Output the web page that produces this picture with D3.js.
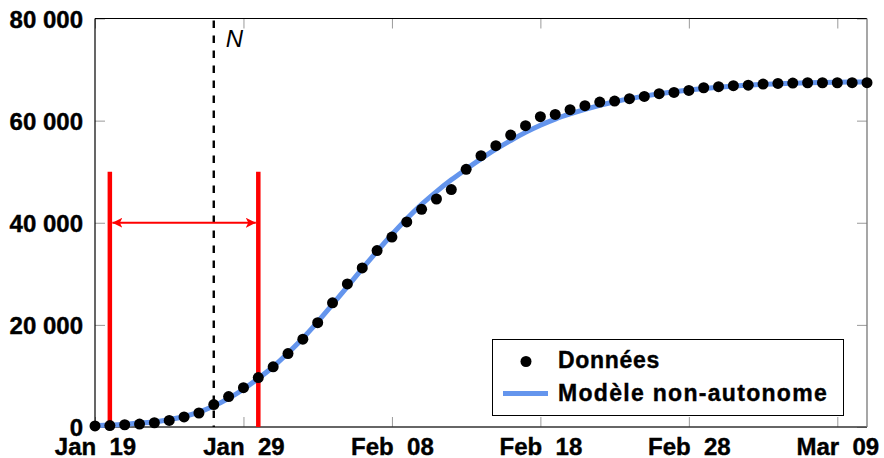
<!DOCTYPE html>
<html>
<head>
<meta charset="utf-8">
<script src="https://cdn.jsdelivr.net/npm/d3@7"></script>
<style>
  html, body { margin: 0; padding: 0; background: #fff; }
  svg { display: block; font-family: "Liberation Sans", Arial, sans-serif; }
</style>
</head>
<body>
<svg id="chart" width="884" height="458"></svg>
<script>
// ---- data ----
const startDate = "2020-01-19";
const endDate = "2020-03-11";
const cases = [200, 290, 440, 570, 830, 1290, 1980, 2740, 4400, 5970, 7710, 9690, 11790,
  14380, 17200, 20440, 24320, 28020, 31160, 34550, 37200, 40170, 42640, 44650, 46490, 50460,
  53140, 55100, 57170, 59010, 60770, 61220, 62140, 62920, 63630, 63830, 64290, 64740, 65270,
  65530, 65920, 66440,
  66640, 66840, 66950, 67150, 67290, 67350, 67420, 67420, 67420, 67440, 67440];
const model = [250, 380, 550, 780, 1000, 1450, 2050, 2900, 4100, 5600, 7400, 9500, 11800,
  14500, 17400, 20600, 24000, 27500, 31000, 34400, 37700, 40800, 43600, 46100, 48400, 50500,
  52500, 54400, 56100, 57700, 59100, 60300, 61300, 62200, 63000, 63700, 64300, 64800, 65250,
  65650, 66000, 66300,
  66550, 66780, 66950, 67100, 67220, 67320, 67400, 67460, 67510, 67550, 67580];
const xTickDates = ["2020-01-19", "2020-01-29", "2020-02-08", "2020-02-18", "2020-02-28", "2020-03-09"];
const yTicks = [0, 20000, 40000, 60000, 80000];
const markerN = "2020-01-27";
const windowStart = "2020-01-20";
const windowEnd = "2020-01-30";
const windowHeight = 50000;
const arrowLevel = 40000;
const legendLabels = ["Données", "Modèle non-autonome"];

// ---- setup ----
const parse = d3.utcParse("%Y-%m-%d");
const days = d3.utcDay.range(parse(startDate), d3.utcDay.offset(parse(endDate), 1));
const pts = days.map((d, i) => ({ d, v: cases[i], m: model[i] }));

const L = 95, R = 867, T = 18.5, B = 427;
const svg = d3.select("#chart");
const x = d3.scaleUtc().domain([parse(startDate), parse(endDate)]).range([L, R]);
const y = d3.scaleLinear().domain([0, 80000]).range([B, T]);

const defs = svg.append("defs");
defs.append("marker").attr("id", "arrR").attr("viewBox", "0 0 10 10").attr("refX", 10).attr("refY", 5)
  .attr("markerWidth", 10).attr("markerHeight", 10).attr("markerUnits", "userSpaceOnUse").attr("orient", "auto")
  .append("path").attr("d", "M0,0 L10,5 L0,10 L2.5,5 Z").attr("fill", "#ff0000");
defs.append("marker").attr("id", "arrL").attr("viewBox", "0 0 10 10").attr("refX", 10).attr("refY", 5)
  .attr("markerWidth", 10).attr("markerHeight", 10).attr("markerUnits", "userSpaceOnUse").attr("orient", "auto-start-reverse")
  .append("path").attr("d", "M0,0 L10,5 L0,10 L2.5,5 Z").attr("fill", "#ff0000");

// ticks (inside, grey), via d3 axes
const fmtY = v => d3.format(",")(v).replace(/,/g, " ");
const fmtX = d => d3.utcFormat("%b")(d) + "  " + d3.utcFormat("%d")(d);
const xt = xTickDates.map(parse);

const axB = svg.append("g").attr("transform", `translate(0,${B})`)
  .call(d3.axisBottom(x).tickValues(xt).tickSize(-10).tickFormat(fmtX));
const axT = svg.append("g").attr("transform", `translate(0,${T})`)
  .call(d3.axisTop(x).tickValues(xt).tickSize(-10).tickFormat(""));
const axL = svg.append("g").attr("transform", `translate(${L},0)`)
  .call(d3.axisLeft(y).tickValues(yTicks).tickSize(-10).tickFormat(fmtY));
const axR = svg.append("g").attr("transform", `translate(${R},0)`)
  .call(d3.axisRight(y).tickValues(yTicks).tickSize(-10).tickFormat(""));
[axB, axT, axL, axR].forEach(g => {
  g.select(".domain").remove();
  g.selectAll(".tick line").attr("stroke", "#9a9a9a").attr("stroke-width", 1);
});
axB.selectAll(".tick text").attr("y", 27.5).attr("dy", 0).attr("fill", "#000")
  .attr("stroke", "#000").attr("stroke-width", 0.4)
  .style("font-size", "24px").style("font-weight", "bold").style("white-space", "pre");
axL.selectAll(".tick text").attr("x", -12).attr("dy", "0.36em").attr("fill", "#000")
  .attr("stroke", "#000").attr("stroke-width", 0.4)
  .style("font-size", "24px").style("font-weight", "bold");

// frame
svg.append("line").attr("x1", L).attr("x2", R).attr("y1", T).attr("y2", T).attr("stroke", "#000").attr("stroke-width", 1.2);
svg.append("line").attr("x1", L).attr("x2", R).attr("y1", B).attr("y2", B).attr("stroke", "#333").attr("stroke-width", 1.3);
svg.append("line").attr("x1", L).attr("x2", L).attr("y1", T).attr("y2", B).attr("stroke", "#000").attr("stroke-width", 1.2);
svg.append("line").attr("x1", R).attr("x2", R).attr("y1", T).attr("y2", B).attr("stroke", "#777").attr("stroke-width", 1.3);

// dashed N line
const xN = x(parse(markerN));
svg.append("line").attr("x1", xN).attr("x2", xN).attr("y1", T + 2).attr("y2", B)
  .attr("stroke", "#000").attr("stroke-width", 2.4).attr("stroke-dasharray", "7.5,7.5");
svg.append("text").attr("x", xN + 12).attr("y", 46.5).text("N")
  .style("font-size", "24px").style("font-style", "italic").attr("fill", "#000");

// model curve
svg.append("path").datum(pts)
  .attr("d", d3.line().x(p => x(p.d)).y(p => y(p.m)).curve(d3.curveMonotoneX))
  .attr("fill", "none").attr("stroke", "#6495ED").attr("stroke-width", 5);

// red window lines
const xa = x(parse(windowStart)), xb = x(parse(windowEnd));
[xa, xb].forEach(xx => {
  svg.append("line").attr("x1", xx).attr("x2", xx).attr("y1", y(windowHeight)).attr("y2", B)
    .attr("stroke", "#ff0000").attr("stroke-width", 4.5);
});
svg.append("line").attr("x1", xa + 2.5).attr("x2", xb - 2.5).attr("y1", y(arrowLevel)).attr("y2", y(arrowLevel))
  .attr("stroke", "#ff0000").attr("stroke-width", 2)
  .attr("marker-start", "url(#arrL)").attr("marker-end", "url(#arrR)");

// data points
svg.append("g").selectAll("circle").data(pts).join("circle")
  .attr("cx", p => x(p.d)).attr("cy", p => y(p.v)).attr("r", 5.5).attr("fill", "#000");

// legend
const lg = svg.append("g");
lg.append("rect").attr("x", 492.5).attr("y", 339.5).attr("width", 351).attr("height", 76)
  .attr("fill", "#fff").attr("stroke", "#000").attr("stroke-width", 1);
lg.append("circle").attr("cx", 526).attr("cy", 361.5).attr("r", 5.5).attr("fill", "#000");
lg.append("line").attr("x1", 503).attr("x2", 548).attr("y1", 393.5).attr("y2", 393.5)
  .attr("stroke", "#6495ED").attr("stroke-width", 5);
lg.append("text").attr("x", 558).attr("y", 368).text(legendLabels[0])
  .attr("stroke", "#000").attr("stroke-width", 0.4)
  .style("font-size", "23px").style("font-weight", "bold").style("letter-spacing", "0.7px");
lg.append("text").attr("x", 558).attr("y", 401).text(legendLabels[1])
  .attr("stroke", "#000").attr("stroke-width", 0.4)
  .style("font-size", "23px").style("font-weight", "bold").style("letter-spacing", "1.3px");
</script>
</body>
</html>
